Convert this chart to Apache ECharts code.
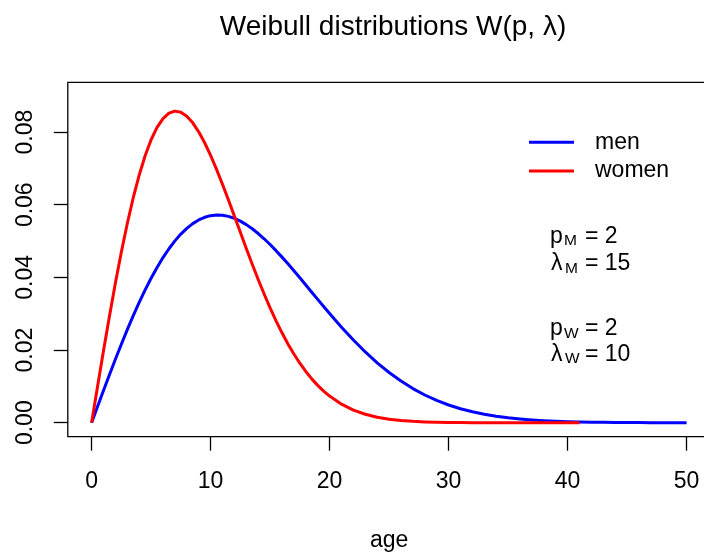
<!DOCTYPE html>
<html><head><meta charset="utf-8">
<script src="https://cdn.jsdelivr.net/npm/echarts@6/dist/echarts.min.js"></script>
<style>html,body{margin:0;padding:0;background:#fff}#c{width:704px;height:555px}</style>
</head><body><div id="c"></div><script>
const ages = [0,0.5,1,1.5,2,2.5,3,3.5,4,4.5,5,5.5,6,6.5,7,7.5,8,8.5,9,9.5,10,
  10.5,11,11.5,12,12.5,13,13.5,14,14.5,15,15.5,16,16.5,17,17.5,18,18.5,19,19.5,20,
  21,22,23,24,25,26,27,28,29,30,31,32,33,34,35,36,37,38,39,40,41,42,43,44,45,46,47,48,49,50];
const menDensity = [0,0.00444,0.00885,0.01320,0.01746,0.02161,0.02562,0.02946,0.03312,0.03656,0.03977,
  0.04274,0.04545,0.04789,0.05005,0.05192,0.05351,0.05480,0.05581,0.05654,0.05699,
  0.05718,0.05711,0.05679,0.05624,0.05548,0.05452,0.05338,0.05208,0.05063,0.04905,
  0.04736,0.04558,0.04374,0.04183,0.03988,0.03791,0.03593,0.03395,0.03198,0.03005,
  0.02629,0.02275,0.01947,0.01649,0.01382,0.01146,0.00940,0.00763,0.00614,0.00488,
  0.00385,0.00300,0.00232,0.00177,0.00134,0.00101,0.00075,0.00055,0.00040,0.00029,
  0.00021,0.00015,0.00010,0.00007,0.00005,0.00003,0.00002,0.00001,0.00001,0.00001];
const womenDensity = [0,0.00998,0.01980,0.02933,0.03843,0.04697,0.05484,0.06193,0.06817,0.07350,0.07788,
  0.08129,0.08372,0.08520,0.08577,0.08547,0.08437,0.08254,0.08007,0.07706,0.07358,
  0.06973,0.06560,0.06129,0.05686,0.05240,0.04798,0.04364,0.03944,0.03542,0.03162,
  0.02805,0.02474,0.02168,0.01890,0.01637,0.01410,0.01207,0.01028,0.00870,0.00733,
  0.00511,0.00348,0.00232,0.00151,0.00097,0.00060,0.00037,0.00022,0.00013,0.00007,
  0.00004,0.00002,0.00001,0.00001,0,0,0,0,0,0,0];
const xTicks = [0,10,20,30,40,50];
const yTicks = [0,0.02,0.04,0.06,0.08];
const seriesNames = ['men','women'];
const seriesColors = ['#0000ff','#ff0000'];
const paramSymbols = ['p','λ','p','λ'];
const paramSubs = ['M','M','W','W'];
const paramValues = [2,15,2,10];

const FONT = "'Liberation Sans', Arial, sans-serif";
const annotY = [236.7, 264, 329, 354.5];
const graphics = [];
paramSymbols.forEach((s, i) => {
  const y = annotY[i];
  graphics.push({type:'text', x: s === 'λ' ? 551 : 550, y: y,
    style:{text:s, fontFamily:FONT, fontSize:23, fill:'#000', verticalAlign:'middle', align:'left'}});
  graphics.push({type:'text', x: s === 'λ' ? 565 : 564, y: y + 4.5,
    style:{text:paramSubs[i], fontFamily:FONT, fontSize:15.5, fill:'#000', verticalAlign:'middle', align:'left'}});
  graphics.push({type:'text', x: 585, y: y,
    style:{text:'= ' + paramValues[i], fontFamily:FONT, fontSize:23, fill:'#000', verticalAlign:'middle', align:'left'}});
});

const chart = echarts.init(document.getElementById('c'), null, {renderer:'canvas'});
chart.setOption({
  backgroundColor:'#fff',
  animation:false,
  title:{text:'Weibull distributions W(p, λ)', left:388, top:8.5, textAlign:'center',
    textStyle:{fontFamily:FONT, fontSize:28, fontWeight:'normal', color:'#000'}},
  legend:{orient:'vertical', left:529, top:130.8, padding:0, itemWidth:45, itemHeight:3, itemGap:5.7,
    icon:'rect', data:seriesNames,
    textStyle:{fontFamily:FONT, fontSize:23, color:'#000', lineHeight:23, padding:[0,0,0,16]}},
  grid:{left:67.8, top:82.3, width:642.6, height:354.4, show:true, borderColor:'#000', borderWidth:1.3,
    containLabel:false, outerBoundsMode:'none'},
  xAxis:{type:'value', min:-2, max:52, name:'age', nameLocation:'middle', nameGap:92,
    nameTextStyle:{fontFamily:FONT, fontSize:23, color:'#000'},
    axisLine:{show:false, onZero:false},
    axisTick:{show:true, length:14, customValues:xTicks, lineStyle:{color:'#000', width:1.3}},
    axisLabel:{customValues:xTicks, margin:33, fontFamily:FONT, fontSize:23, color:'#000'},
    splitLine:{show:false}},
  yAxis:{type:'value', min:-0.00385, max:0.0937,
    axisLine:{show:false, onZero:false},
    axisTick:{show:true, length:14, customValues:yTicks, lineStyle:{color:'#000', width:1.3}},
    axisLabel:{customValues:yTicks, rotate:90, margin:31, fontFamily:FONT, fontSize:23, color:'#000',
      formatter:v => v.toFixed(2)},
    splitLine:{show:false}},
  series:[
    {name:seriesNames[0], type:'line', color:seriesColors[0], showSymbol:false, smooth:false,
      lineStyle:{color:seriesColors[0], width:3, join:'round'},
      data:menDensity.map((v,i)=>[ages[i], v])},
    {name:seriesNames[1], type:'line', color:seriesColors[1], showSymbol:false, smooth:false,
      lineStyle:{color:seriesColors[1], width:3, join:'round'},
      data:womenDensity.map((v,i)=>[ages[i], v])}
  ],
  graphic:graphics
});
</script></body></html>
